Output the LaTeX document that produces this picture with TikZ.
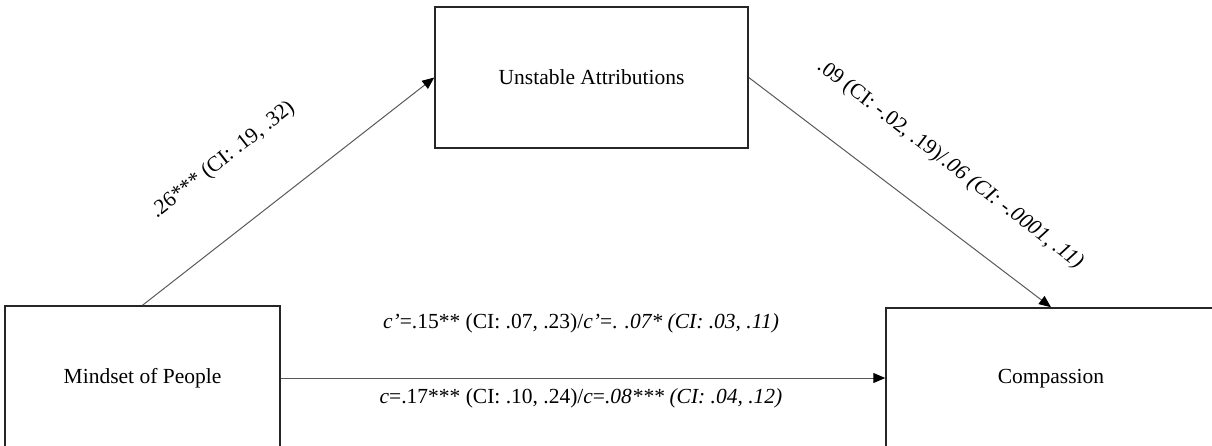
\documentclass[tikz,border=0pt]{standalone}
\usepackage{fontspec}
\setmainfont{Liberation Serif}
\usetikzlibrary{arrows.meta}
\begin{document}
\begin{tikzpicture}[x=1pt,y=-1pt,
  box/.style={draw=black!85,line width=1.5pt,rectangle,inner sep=0pt,
    font=\fontsize{21.5}{26}\selectfont},
  conn/.style={draw=black!65,line width=1pt,
    -{Triangle[length=12pt,width=10pt,fill=black,color=black]}},
  lab/.style={font=\fontsize{21.5}{26}\selectfont,inner sep=0pt}]
\useasboundingbox (0,0) rectangle (1212,445);
\clip (0,0) rectangle (1212,445);
\node[box,minimum width=313pt,minimum height=141pt] (unst) at (591.5,77.5) {Unstable Attributions};
\node[box,minimum width=275pt,minimum height=144pt] (mind) at (142.5,378) {Mindset of People};
\node[box,minimum width=330pt,minimum height=142pt] (comp) at (1051,379) {Compassion};
\draw[conn] (mind.north) -- (unst.west);
\draw[conn] (unst.east) -- (comp.north);
\draw[conn] (mind.east) -- (mind.east -| comp.west);
\node[lab,rotate=38] (la) at (223,160) {.26*** (CI: .19, .32)};
\node[lab,rotate=-37.5] (lb) at (950,165) {.09 (CI: -.02, .19)/\textit{.06 (CI: -.0001, .11)}};
\node[lab] (lc) at (581,323) {\textit{c’}=.15** (CI: .07, .23)/\textit{c’}=. \textit{.07* (CI: .03, .11)}};
\node[lab] (ld) at (581,398) {\textit{c}=.17*** (CI: .10, .24)/\textit{c}=\textit{.08*** (CI: .04, .12)}};
\end{tikzpicture}
\end{document}
